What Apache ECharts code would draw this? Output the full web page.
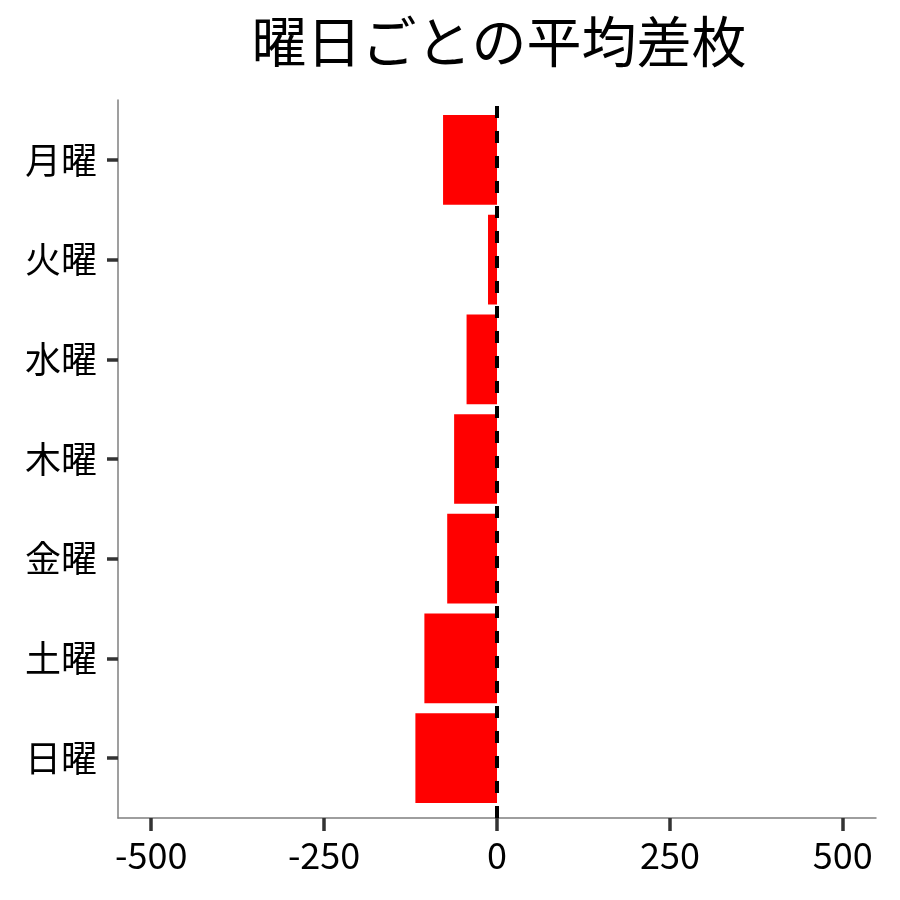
<!DOCTYPE html>
<html><head><meta charset="utf-8">
<script src="https://cdn.jsdelivr.net/npm/echarts@6/dist/echarts.min.js"></script>
<style>html,body{margin:0;padding:0;background:#fff}#c{width:900px;height:900px}</style>
</head><body><div id="c"></div>
<script>
const titleText = '曜日ごとの平均差枚';
const categories = ['月曜','火曜','水曜','木曜','金曜','土曜','日曜'];
const values = [-78, -13, -44, -62, -72, -105, -118];
const xTicks = [-500, -250, 0, 250, 500];
const xRange = [-548, 548];
const refValue = 0;

const FONT = '"Noto Sans CJK JP","Noto Sans",sans-serif';
const chart = echarts.init(document.getElementById('c'));
chart.setOption({
  animation: false,
  backgroundColor: '#fff',
  title: {
    text: titleText, left: 494, top: 9, textAlign: 'center',
    textStyle: {fontFamily: FONT, fontSize: 55, fontWeight: 'normal', color: '#000'}
  },
  grid: [
    {left: 118, right: 24, top: 110, bottom: 92},
    {left: 118, right: 24, top: 100, bottom: 82}
  ],
  xAxis: [
    {gridIndex: 0, type: 'value', min: xRange[0], max: xRange[1], show: false},
    {gridIndex: 1, type: 'value', min: xRange[0], max: xRange[1],
     axisLine: {show: true, onZero: false, lineStyle: {color: '#7f7f7f', width: 1.5}},
     axisTick: {show: true, length: 13, customValues: xTicks, lineStyle: {color: '#333', width: 3.5}},
     axisLabel: {show: true, customValues: xTicks, margin: 19, fontFamily: FONT, fontSize: 36, color: '#000'},
     splitLine: {show: false}}
  ],
  yAxis: [
    {gridIndex: 0, type: 'category', data: categories, inverse: true,
     axisLine: {show: false, onZero: false},
     axisTick: {show: true, length: 11, alignWithLabel: true, lineStyle: {color: '#333', width: 3.5}},
     axisLabel: {margin: 21, fontFamily: FONT, fontSize: 36, color: '#000'},
     splitLine: {show: false}},
    {gridIndex: 1, type: 'value', min: 0.4, max: 7.6,
     axisLine: {show: true, onZero: false, lineStyle: {color: '#7f7f7f', width: 1.5}},
     axisTick: {show: false}, axisLabel: {show: false}, splitLine: {show: false}}
  ],
  series: [
    {type: 'bar', xAxisIndex: 0, yAxisIndex: 0, data: values, barCategoryGap: '10%',
     itemStyle: {color: '#ff0000'}, silent: true},
    {type: 'scatter', xAxisIndex: 1, yAxisIndex: 1, data: [[refValue, 4]], symbolSize: 0, silent: true,
     markLine: {silent: true, symbol: 'none', label: {show: false},
       lineStyle: {color: '#000', width: 4, type: [12, 13]},
       data: [{xAxis: refValue}]}, z: 5}
  ]
});
</script></body></html>
